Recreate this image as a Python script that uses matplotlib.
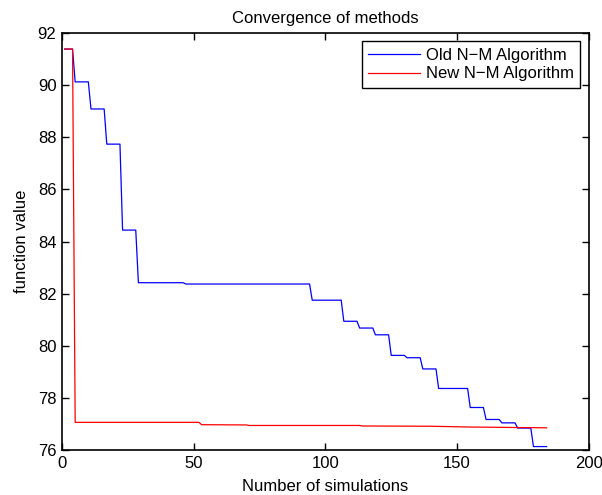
import matplotlib
matplotlib.use("Agg")
import matplotlib.pyplot as plt

plt.rcParams['font.family'] = ['Liberation Sans', 'DejaVu Sans']

# corner points of the two convergence histories (simulation index, function value)
old_x = [1, 4, 5, 10, 11, 16, 17, 22, 23, 28, 29, 46, 47, 94, 95, 106, 107, 112,
         113, 118, 119, 124, 125, 130, 131, 136, 137, 142, 143, 154, 155, 160,
         161, 166, 167, 172, 173, 178, 179, 184]
old_y = [91.39, 91.39, 90.13, 90.13, 89.09, 89.09, 87.74, 87.74, 84.44, 84.44,
         82.42, 82.42, 82.37, 82.37, 81.75, 81.75, 80.94, 80.94, 80.68, 80.68,
         80.42, 80.42, 79.63, 79.63, 79.54, 79.54, 79.11, 79.11, 78.36, 78.36,
         77.63, 77.63, 77.17, 77.17, 77.04, 77.04, 76.84, 76.84, 76.13, 76.13]

new_x = [1, 4, 5, 52, 53, 70, 71, 113, 114, 140, 155, 184]
new_y = [91.39, 91.39, 77.06, 77.06, 76.97, 76.96, 76.94, 76.94, 76.92, 76.91,
         76.88, 76.85]

fig = plt.figure(figsize=(6.02, 4.95), dpi=100)
ax = fig.add_axes([0.103, 0.091, 0.875, 0.842])

ax.plot(old_x, old_y, color=(0, 0, 1), lw=0.9, label='Old N\u2212M Algorithm')
ax.plot(new_x, new_y, color=(1, 0, 0), lw=0.9, label='New N\u2212M Algorithm')

ax.set_xlim(0, 200)
ax.set_ylim(76, 92)
ax.set_xticks([0, 50, 100, 150, 200])
ax.set_yticks(range(76, 93, 2))
ax.tick_params(direction='in', top=True, right=True, length=5, width=1,
               labelsize=12, pad=4)
for s in ax.spines.values():
    s.set_linewidth(1.2)

ax.set_xlabel('Number of simulations', fontsize=12, labelpad=6)
ax.set_ylabel('function value', fontsize=12, labelpad=6)
ax.set_title('Convergence of methods', fontsize=12, pad=7)

leg = ax.legend(loc='upper right', fontsize=12, handlelength=3.1, fancybox=False,
                framealpha=1, edgecolor='black', borderpad=0.4, labelspacing=0.2,
                handletextpad=0.35, borderaxespad=0.5)
leg.get_frame().set_linewidth(1.0)

fig.savefig('out.png', dpi=100)
